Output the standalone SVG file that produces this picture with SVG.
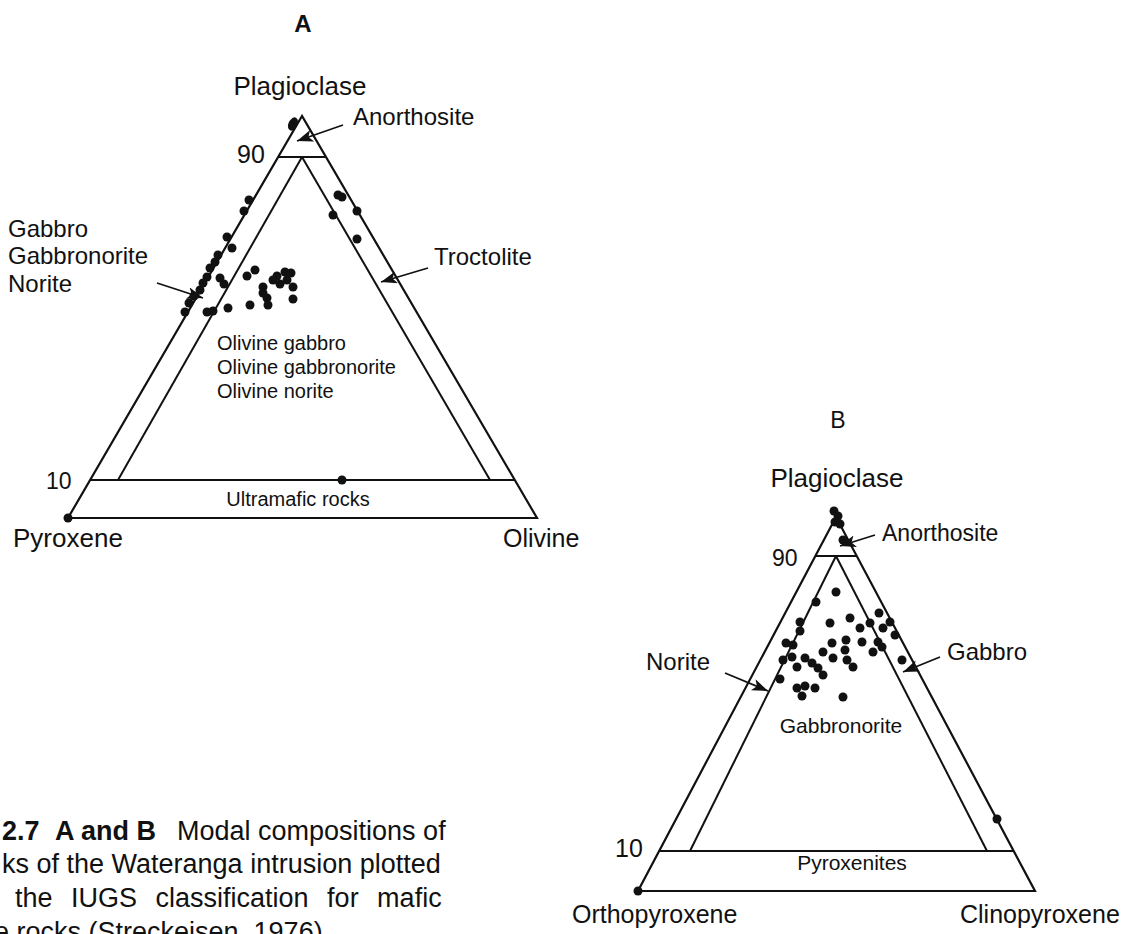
<svg xmlns="http://www.w3.org/2000/svg" width="1133" height="934" viewBox="0 0 1133 934">
<style>
.frame{fill:none;stroke:#111;stroke-width:2.2;stroke-linejoin:miter}
.ln{stroke:#111;stroke-width:2}
.arr{stroke:#111;stroke-width:1.8;fill:none}
.dot{fill:#111}
.lbl{font-family:"Liberation Sans",Arial,sans-serif;fill:#111}
.cap{font-family:"Liberation Sans",Arial,sans-serif;fill:#111;font-size:27px}
</style>
<defs>
<marker id="ah" markerUnits="userSpaceOnUse" markerWidth="18" markerHeight="14" refX="16" refY="6" orient="auto">
<path d="M0,0 L16,6 L0,12 L4,6 z" fill="#111"/>
</marker>
</defs>
<rect width="1133" height="934" fill="#fff"/>

<g id="diagramA">
<text class="lbl" x="303" y="32" font-size="24" font-weight="bold" text-anchor="middle">A</text>
<polygon class="frame" points="302,116 68,518 537,518"/>
<line class="ln" x1="278" y1="157" x2="326" y2="157"/>
<line class="ln" x1="90" y1="480" x2="515" y2="480"/>
<line class="ln" x1="302" y1="157" x2="118" y2="480"/>
<line class="ln" x1="302" y1="157" x2="490" y2="480"/>
</g>

<g id="labelsA">
<text class="lbl" x="300" y="95" font-size="26" text-anchor="middle">Plagioclase</text>
<text class="lbl" x="237" y="163" font-size="25">90</text>
<text class="lbl" x="46" y="489" font-size="23">10</text>
<text class="lbl" x="13" y="547" font-size="26">Pyroxene</text>
<text class="lbl" x="503" y="547" font-size="25">Olivine</text>
<text class="lbl" x="353" y="125" font-size="24">Anorthosite</text>
<text class="lbl" x="434" y="265" font-size="24">Troctolite</text>
<text class="lbl" x="8" y="237" font-size="24">Gabbro</text>
<text class="lbl" x="8" y="264" font-size="24">Gabbronorite</text>
<text class="lbl" x="8" y="292" font-size="24">Norite</text>
<text class="lbl" x="217" y="350" font-size="20">Olivine gabbro</text>
<text class="lbl" x="217" y="374" font-size="20">Olivine gabbronorite</text>
<text class="lbl" x="217" y="398" font-size="20">Olivine norite</text>
<text class="lbl" x="298" y="506" font-size="20" text-anchor="middle">Ultramafic rocks</text>
</g>

<g id="pointsA" class="dot">
<ellipse cx="293" cy="124" rx="4.5" ry="7" transform="rotate(25 293 124)"/>
<circle cx="249" cy="200" r="4.5"/><circle cx="244" cy="211" r="4.5"/>
<circle cx="227" cy="237" r="4.5"/><circle cx="232" cy="248" r="4.5"/>
<circle cx="218" cy="255" r="4.5"/><circle cx="215" cy="262" r="4.5"/>
<circle cx="210" cy="268" r="4.5"/><circle cx="207" cy="277" r="4.5"/>
<circle cx="203" cy="283" r="4.5"/><circle cx="200" cy="290" r="4.5"/>
<circle cx="194" cy="296" r="4.5"/><circle cx="189" cy="303" r="4.5"/>
<circle cx="185" cy="312" r="4.5"/><circle cx="207" cy="312" r="4.5"/>
<circle cx="213" cy="311" r="4.5"/><circle cx="220" cy="278" r="4.5"/>
<circle cx="224" cy="284" r="4.5"/><circle cx="228" cy="308" r="4.5"/>
<circle cx="250" cy="305" r="4.5"/>
<circle cx="338" cy="195" r="4.5"/><circle cx="342" cy="197" r="4.5"/>
<circle cx="333" cy="215" r="4.5"/><circle cx="357" cy="211" r="4.5"/>
<circle cx="357" cy="239" r="4.5"/>
<circle cx="255" cy="270" r="4.5"/><circle cx="247" cy="276" r="4.5"/>
<circle cx="263" cy="287" r="4.5"/><circle cx="277" cy="276" r="4.5"/>
<circle cx="285" cy="272" r="4.5"/><circle cx="291" cy="273" r="4.5"/>
<circle cx="287" cy="280" r="4.5"/><circle cx="280" cy="284" r="4.5"/>
<circle cx="293" cy="287" r="4.5"/><circle cx="293" cy="299" r="4.5"/>
<circle cx="267" cy="298" r="4.5"/><circle cx="268" cy="305" r="4.5"/>
<circle cx="263" cy="293" r="4.5"/><circle cx="273" cy="280" r="4.5"/>
<circle cx="342" cy="480" r="4.5"/>
<circle cx="68" cy="518" r="4.5"/>
</g>

<g id="diagramB">
<text class="lbl" x="838" y="428" font-size="23" text-anchor="middle">B</text>
<polygon class="frame" points="836,517 638,891 1035,891"/>
<line class="ln" x1="815" y1="556" x2="857" y2="556"/>
<line class="ln" x1="659" y1="851" x2="1014" y2="851"/>
<line class="ln" x1="836" y1="556" x2="690" y2="851"/>
<line class="ln" x1="836" y1="556" x2="987" y2="851"/>
</g>

<g id="labelsB">
<text class="lbl" x="837" y="487" font-size="26" text-anchor="middle">Plagioclase</text>
<text class="lbl" x="772" y="566" font-size="23">90</text>
<text class="lbl" x="615" y="857" font-size="25">10</text>
<text class="lbl" x="882" y="541" font-size="23">Anorthosite</text>
<text class="lbl" x="646" y="670" font-size="24">Norite</text>
<text class="lbl" x="947" y="660" font-size="24">Gabbro</text>
<text class="lbl" x="841" y="733" font-size="21" text-anchor="middle">Gabbronorite</text>
<text class="lbl" x="852" y="870" font-size="21" text-anchor="middle">Pyroxenites</text>
<text class="lbl" x="572" y="923" font-size="25">Orthopyroxene</text>
<text class="lbl" x="960" y="923" font-size="25">Clinopyroxene</text>
</g>

<g id="pointsB" class="dot">
<circle cx="834" cy="511" r="4.5"/><circle cx="838" cy="516" r="4.5"/>
<circle cx="835" cy="522" r="4.5"/><circle cx="840" cy="524" r="4.5"/>
<circle cx="843" cy="540" r="4.5"/>
<circle cx="836" cy="592" r="4.5"/><circle cx="816" cy="602" r="4.5"/>
<circle cx="800" cy="622" r="4.5"/><circle cx="800" cy="631" r="4.5"/>
<circle cx="830" cy="623" r="4.5"/><circle cx="850" cy="618" r="4.5"/>
<circle cx="879" cy="613" r="4.5"/><circle cx="870" cy="623" r="4.5"/>
<circle cx="860" cy="628" r="4.5"/><circle cx="890" cy="622" r="4.5"/>
<circle cx="883" cy="628" r="4.5"/><circle cx="895" cy="635" r="4.5"/>
<circle cx="786" cy="643" r="4.5"/><circle cx="793" cy="645" r="4.5"/>
<circle cx="832" cy="643" r="4.5"/><circle cx="846" cy="640" r="4.5"/>
<circle cx="862" cy="642" r="4.5"/><circle cx="878" cy="642" r="4.5"/>
<circle cx="882" cy="647" r="4.5"/><circle cx="873" cy="652" r="4.5"/>
<circle cx="823" cy="652" r="4.5"/><circle cx="845" cy="650" r="4.5"/>
<circle cx="783" cy="660" r="4.5"/><circle cx="792" cy="657" r="4.5"/>
<circle cx="805" cy="658" r="4.5"/><circle cx="833" cy="658" r="4.5"/>
<circle cx="847" cy="660" r="4.5"/><circle cx="812" cy="663" r="4.5"/>
<circle cx="818" cy="668" r="4.5"/><circle cx="797" cy="667" r="4.5"/>
<circle cx="853" cy="667" r="4.5"/><circle cx="823" cy="675" r="4.5"/>
<circle cx="780" cy="679" r="4.5"/><circle cx="902" cy="660" r="4.5"/>
<circle cx="797" cy="688" r="4.5"/><circle cx="805" cy="686" r="4.5"/>
<circle cx="815" cy="688" r="4.5"/><circle cx="802" cy="696" r="4.5"/>
<circle cx="843" cy="697" r="4.5"/>
<circle cx="997" cy="819" r="4.5"/>
<circle cx="638" cy="891" r="4.5"/>
</g>

<g id="connectors">
<line class="arr" x1="343" y1="125" x2="297" y2="141" marker-end="url(#ah)"/>
<line class="arr" x1="428" y1="268" x2="381" y2="282" marker-end="url(#ah)"/>
<line class="arr" x1="157" y1="283" x2="203" y2="298" marker-end="url(#ah)"/>
<line class="arr" x1="875" y1="535" x2="840" y2="546" marker-end="url(#ah)"/>
<line class="arr" x1="725" y1="673" x2="768" y2="691" marker-end="url(#ah)"/>
<line class="arr" x1="940" y1="657" x2="903" y2="672" marker-end="url(#ah)"/>
</g>

<g id="caption">
<text class="cap" y="840"><tspan x="2" font-weight="bold">2.7</tspan><tspan x="55" font-weight="bold">A and B</tspan><tspan x="177">Modal compositions of</tspan></text>
<text class="cap" x="2" y="873">ks of the Wateranga intrusion plotted</text>
<text class="cap" x="15" y="907" word-spacing="11">the IUGS classification for mafic</text>
<text class="cap" x="-6" y="941">e rocks (Streckeisen, 1976)</text>
</g>
</svg>
